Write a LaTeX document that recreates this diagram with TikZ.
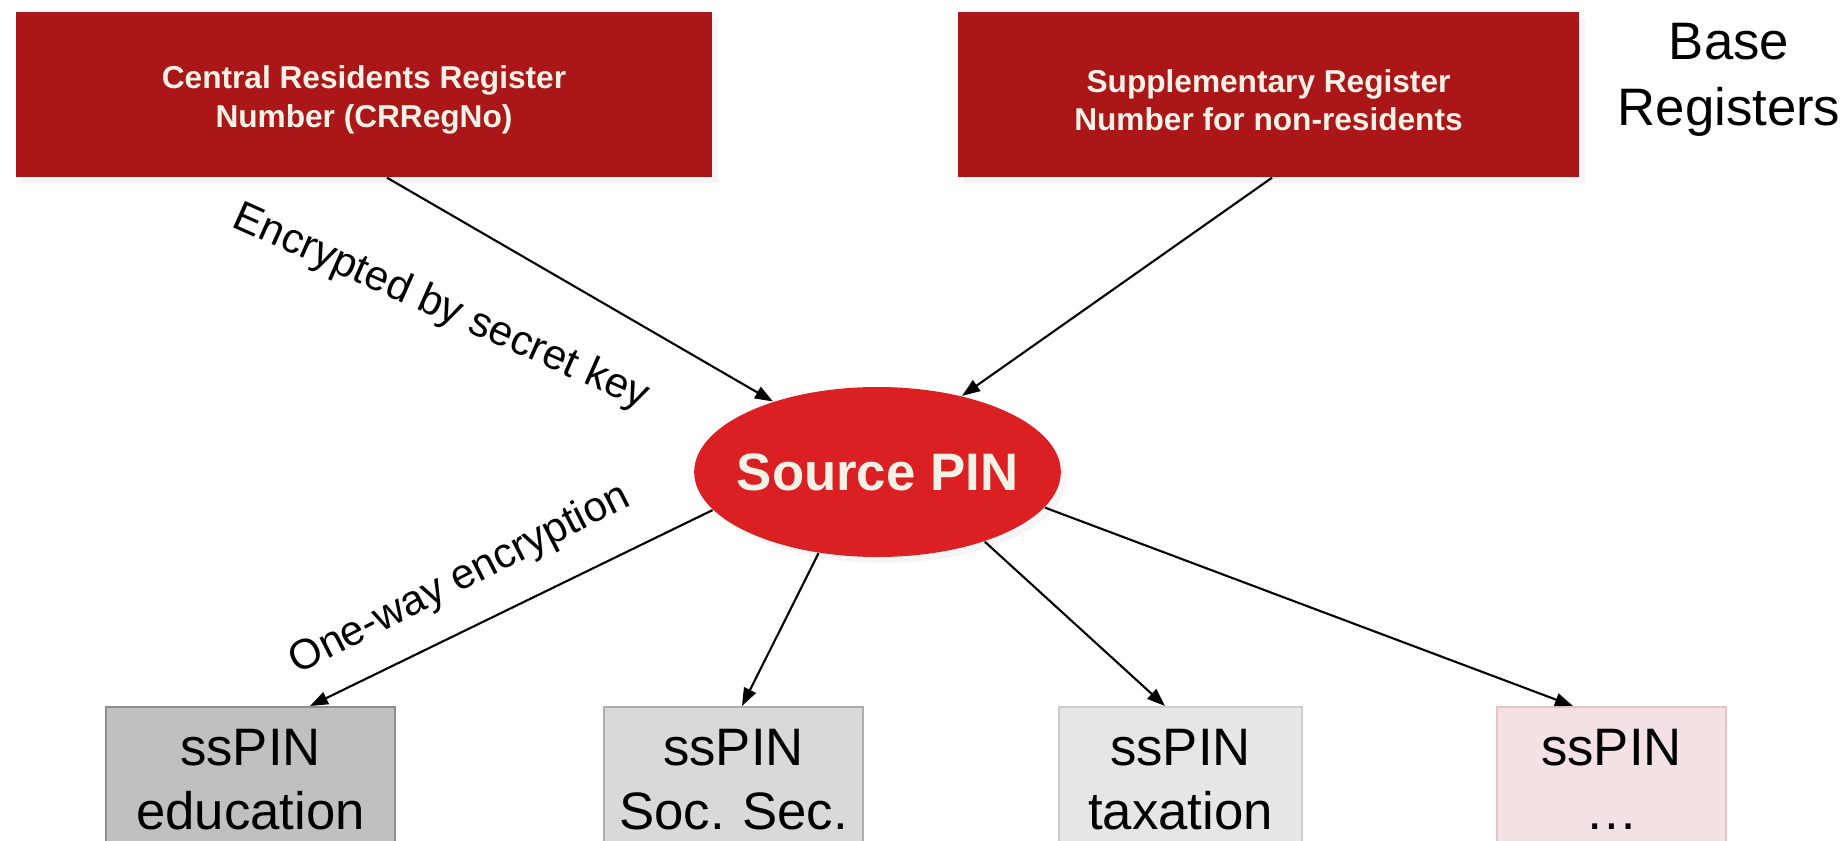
\documentclass[tikz,border=0pt]{standalone}
\usepackage{fontspec}
\setmainfont{Liberation Sans}
\frenchspacing
\usepackage{tikz}
\usetikzlibrary{shapes,shadows,arrows.meta,positioning}
\definecolor{regred}{HTML}{AB1719}
\definecolor{pinred}{HTML}{DB2023}
\definecolor{cream}{HTML}{F4F2E6}
\definecolor{eduFill}{HTML}{C0C0C0}
\definecolor{eduLine}{HTML}{8E8E8E}
\definecolor{socFill}{HTML}{D9D9D9}
\definecolor{socLine}{HTML}{ADADAD}
\definecolor{taxFill}{HTML}{E6E6E6}
\definecolor{taxLine}{HTML}{CCCCCC}
\definecolor{etcFill}{HTML}{F3E1E4}
\definecolor{etcLine}{HTML}{E6C3C9}
\newcommand{\regstrut}{\rule{0pt}{0.34cm}}
\tikzstyle{regbox}=[rectangle, fill=regred, text=cream, align=center, minimum height=1.65cm, font=\bfseries\fontsize{9}{11}\selectfont, drop shadow={opacity=0.08, shadow xshift=0.6mm, shadow yshift=-0.6mm}]
\tikzstyle{srcpin}=[ellipse, fill=pinred, text=cream, inner xsep=-1.1mm, inner ysep=0pt, minimum width=3.63cm, minimum height=1.70cm, font=\bfseries\fontsize{15}{18}\selectfont, drop shadow={opacity=0.08, shadow xshift=0.6mm, shadow yshift=-0.6mm}]
\tikzstyle{sspin}=[rectangle, anchor=north, align=center, inner xsep=0pt, inner ysep=2.2mm, line width=0.6pt, font=\fontsize{15}{18.2}\selectfont, execute at end node={\rule[-1cm]{0pt}{0pt}}]
\tikzstyle{sspin1}=[sspin, fill=eduFill, draw=eduLine]
\tikzstyle{sspin2}=[sspin, fill=socFill, draw=socLine]
\tikzstyle{sspin3}=[sspin, fill=taxFill, draw=taxLine]
\tikzstyle{sspin4}=[sspin, fill=etcFill, draw=etcLine]
\tikzstyle{note}=[font=\fontsize{12}{14}\selectfont, inner sep=0pt]
\tikzstyle{link}=[line width=0.6pt, -{Triangle[length=1.8mm,width=1.3mm]}]

\begin{document}
\begin{tikzpicture}
\useasboundingbox (0,0) rectangle (18.48,-8.40);
\clip (0,0) rectangle (18.48,-8.40);
%Base registers
\node[regbox, minimum width=6.96cm] (crr) at (3.64,-0.945){\regstrut Central Residents Register\\Number (CRRegNo)};
\node[regbox, minimum width=6.21cm] (snr) at (12.685,-0.945){\regstrut Supplementary Register\\Number for non-residents};
\node[align=center, inner sep=0pt, font=\fontsize{15}{18.8}\selectfont] (base) at (17.29,-0.795){Base\\Registers};
%Source PIN
\node[srcpin] (src) at (8.775,-4.72){Source PIN};
%Sector specific PINs
\node[sspin1, text width=2.89cm] (edu) at (2.505,-7.06){ssPIN\\education};
\node[sspin2, text width=2.59cm] (soc) at (7.335,-7.06){ssPIN\\Soc. Sec.};
\node[sspin3, text width=2.43cm] (tax) at (11.805,-7.06){ssPIN\\taxation};
\node[sspin4, text width=2.29cm] (etc) at (16.115,-7.06){ssPIN\\…};
%Arrows
\draw[link] ([xshift=2.3mm]crr.south) -- (src.146);
\draw[link] ([xshift=0.35mm]snr.south) -- (src.42);
\draw[link] (src.193) -- ([xshift=5.95mm]edu.north);
\draw[link] (src.234) -- ([xshift=0.85mm]soc.north);
\draw[link] (src.327) -- ([xshift=-1.55mm]tax.north);
\draw[link] (src.348) -- ([xshift=-3.85mm]etc.north);
%Labels
\node[note, rotate=-24] (keylbl) at (4.41,-3.08){Encrypted by secret key};
\node[note, rotate=27] (owlbl) at (4.60,-5.80){One-way encryption};
\end{tikzpicture}
\end{document}
